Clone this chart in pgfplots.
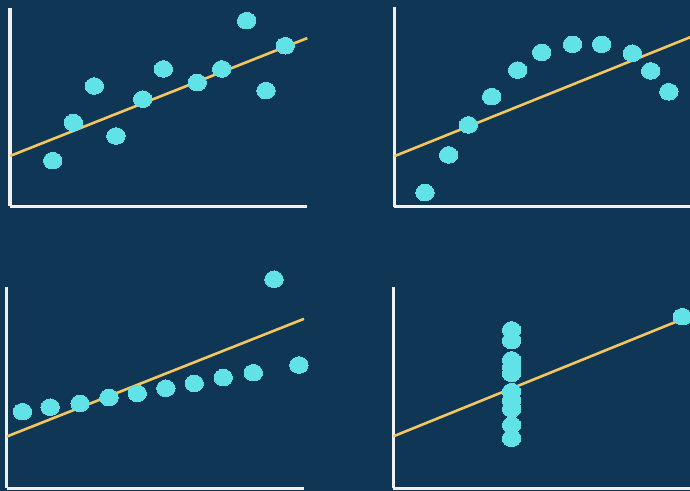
\documentclass[border=0pt]{standalone}
\usepackage{pgfplots}
\pgfplotsset{compat=1.18}
\usepackage{pgfplotstable}

\definecolor{bg}{RGB}{15,54,84}
\definecolor{dot}{RGB}{96,226,230}
\definecolor{fit}{RGB}{242,198,96}
\definecolor{axline}{RGB}{240,240,240}

% Anscombe-style quartet: four sets, one regression line each
\pgfplotstableread{
x y
4.00 4.26
4.89 6.05
5.79 7.77
6.72 5.42
7.87 7.15
8.76 8.57
10.22 7.93
11.27 8.57
12.34 10.84
13.17 7.55
14.00 9.66
}\setI
\pgfplotstableread{
x y
3.48 2.76
4.50 4.53
5.35 5.94
6.35 7.27
7.47 8.52
8.50 9.35
9.83 9.73
11.08 9.73
12.40 9.31
13.19 8.48
13.97 7.50
}\setII
\pgfplotstableread{
x y
2.84 5.73
4.03 5.94
5.32 6.12
6.56 6.39
7.78 6.59
9.01 6.83
10.23 7.06
11.48 7.33
12.77 7.56
13.66 11.95
14.73 7.92
}\setIII
\pgfplotstableread{
x y
7.25 9.57
7.25 9.07
7.25 8.16
7.25 7.82
7.25 7.53
7.25 6.67
7.25 6.25
7.25 5.86
7.25 5.10
7.25 4.48
14.59 10.19
}\setIV

\pgfplotsset{
  panel/.style={
    scale only axis,
    width=297.3bp,
    anchor=south west,
    axis x line=bottom,
    axis y line=left,
    axis line style={-, draw=axline, line width=3bp},
    xtick=\empty, ytick=\empty,
    xmin=2.164, xmax=14.95,
    clip=false,
  },
  dots/.style={only marks, color=dot, mark=*, mark size=9.2bp,
    mark options={draw=dot, fill=dot, line width=0pt, yscale=0.9}},
  fitline/.style={no marks, draw=fit, line width=2.6bp},
}

\begin{document}
\begin{tikzpicture}
\path[use as bounding box] (0,0) rectangle (690bp,-491bp);
\clip (0,0) rectangle (690bp,-491bp);
\fill[bg] (0,0) rectangle (690bp,-491bp);

% top left
\begin{axis}[panel, at={(10bp,-206bp)}, height=197.7bp, ymin=2.13, ymax=11.42]
\addplot[fitline] coordinates {(2.164,4.48) (14.95,10.02)};
\addplot[dots] table[x=x,y=y] {\setI};
\end{axis}

% top right
\begin{axis}[panel, at={(394.3bp,-206.5bp)}, height=199bp, ymin=2.108, ymax=11.46]
\addplot[fitline] coordinates {(2.164,4.47) (14.95,10.09)};
\addplot[dots] table[x=x,y=y] {\setII};
\end{axis}

% bottom left
\begin{axis}[panel, at={(6.7bp,-488.3bp)}, height=201.6bp, ymin=2.13, ymax=11.60]
\addplot[fitline] coordinates {(2.164,4.56) (14.95,10.09)};
\addplot[dots] table[x=x,y=y] {\setIII};
\end{axis}

% bottom right
\begin{axis}[panel, at={(393.3bp,-488.3bp)}, height=201.6bp, ymin=2.13, ymax=11.60]
\addplot[fitline] coordinates {(2.164,4.57) (14.95,10.23)};
\addplot[dots] table[x=x,y=y] {\setIV};
\end{axis}
\end{tikzpicture}
\end{document}
